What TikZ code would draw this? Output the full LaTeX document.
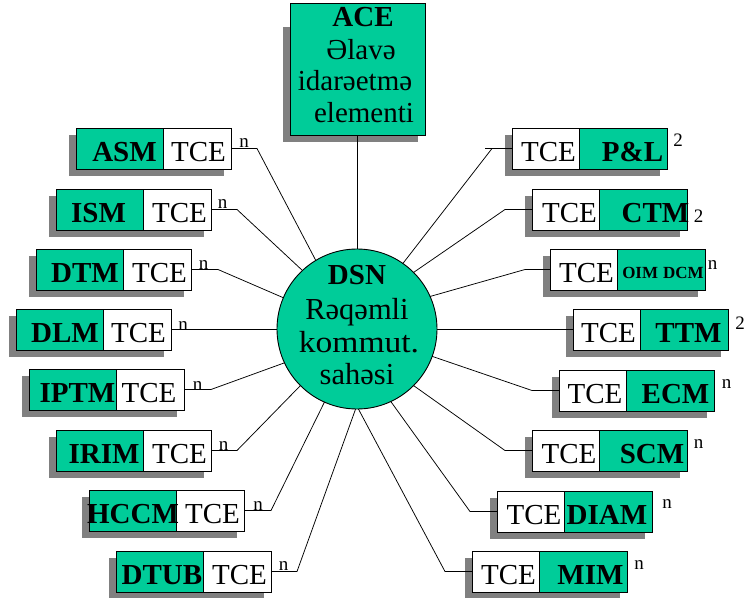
\documentclass[tikz,border=0pt]{standalone}
\usepackage{fontspec}
\setmainfont{Liberation Serif}
\definecolor{panelgreen}{RGB}{0,204,153}
\definecolor{shadowgray}{RGB}{128,128,128}

\tikzset{
  boxline/.style={draw=black, line width=0.9pt, inner sep=0pt, outer sep=0pt},
  dropshadow/.style={fill=shadowgray, draw=none},
  greenpart/.style={boxline, fill=panelgreen, minimum width=87pt, minimum height=41pt},
  whitepart/.style={boxline, fill=white, minimum width=68pt, minimum height=41pt},
  rwhitepart/.style={boxline, fill=white, minimum width=67pt, minimum height=41pt},
  rgreenpart/.style={boxline, fill=panelgreen, minimum width=88pt, minimum height=41pt},
  lbl/.style={font=\fontsize{29}{31}\selectfont\bfseries, anchor=base, inner sep=0pt},
  tcetext/.style={font=\fontsize{29}{31}\selectfont, anchor=base, inner sep=0pt},
  multtext/.style={font=\fontsize{19}{20}\selectfont, anchor=base, inner sep=0pt},
  bigtext/.style={font=\fontsize{29}{31}\selectfont, anchor=base, inner sep=0pt},
  circtext/.style={font=\fontsize{30.5}{33}\selectfont, anchor=base, inner sep=0pt},
  wire/.style={draw=black, line width=0.75pt},
}

% unit with the module on the left and TCE on the right
% #1 name, #2 left x, #3 top y, #4 label, #5 label centre x, #6 TCE centre x,
% #7 multiplicity, #8/#9 its position
\newcommand\leftunit[9]{%
  \path[dropshadow] ({#2-7},{#3+7}) rectangle ({#2+148},{#3+48});
  \node[greenpart, anchor=north west] (#1g) at (#2,#3) {};
  \node[whitepart, anchor=north west] (#1w) at ({#2+87},#3) {};
  \node[lbl] (#1l) at (#5,{#3+33.5}) {#4};
  \node[tcetext] (#1t) at (#6,{#3+33.5}) {TCE};
  \node[multtext] (#1m) at (#8,#9) {#7};
}
% unit with TCE on the left and the module on the right
\newcommand\rightunit[9]{%
  \path[dropshadow] ({#2-7},{#3+7}) rectangle ({#2+148},{#3+48});
  \node[rwhitepart, anchor=north west] (#1w) at (#2,#3) {};
  \node[rgreenpart, anchor=north west] (#1g) at ({#2+67},#3) {};
  \node[lbl] (#1l) at (#5,{#3+33.5}) {#4};
  \node[tcetext] (#1t) at (#6,{#3+33.5}) {TCE};
  \node[multtext] (#1m) at (#8,#9) {#7};
}

\begin{document}
\begin{tikzpicture}[x=1pt,y=-1pt]
\useasboundingbox (0,0) rectangle (744,597);
\fill[white] (0,0) rectangle (744,597);

% auxiliary control element
\path[dropshadow] (283,27) rectangle (418,142);
\node[boxline, fill=panelgreen, minimum width=135pt, minimum height=132pt, anchor=north west] (ace) at (290,3) {};
\node[lbl] (ace1) at (363,27) {ACE};
\node[bigtext] (ace2) at (361,59) {Əlavə};
\node[bigtext] (ace3) at (355,90) {idarəetmə};
\node[bigtext] (ace4) at (364,122) {elementi};

% digital switching network
\node[circle, draw=black, line width=0.9pt, fill=panelgreen, minimum size=160pt, inner sep=0pt, outer sep=0pt] (dsn) at (357,329) {};
\node[lbl] (dsn1) at (357,284) {DSN};
\node[circtext] (dsn2) at (357,319) {Rəqəmli};
\node[circtext] (dsn3) at (359,352) {\scalebox{1.1}[1]{kommut.}};
\node[circtext] (dsn4) at (357,384) {sahəsi};

\draw[wire] (ace.south) -- (ace.south |- dsn.north);

% left column
\leftunit{asm}{76}{128}{ASM}{124.5}{198.5}{n}{244}{147}
\leftunit{ism}{56}{189}{ISM}{98.5}{179.5}{n}{222.5}{208}
\leftunit{dtm}{36}{249}{DTM}{85}{159.5}{n}{203.5}{269}
\leftunit{dlm}{16}{309}{DLM}{65}{138.5}{n}{183}{330}
\leftunit{iptm}{29}{369}{IPTM}{77.5}{149}{n}{197.5}{390}
\leftunit{irim}{56}{430}{IRIM}{104}{179.5}{n}{223.5}{450}
\leftunit{hccm}{89}{490}{HCCM}{133}{212.5}{n}{258}{510}
\leftunit{dtub}{116}{551}{DTUB}{162}{239.5}{n}{283.5}{570}

% right column
\rightunit{pl}{512}{128}{P\&L}{632.5}{548.5}{2}{678}{146}
\rightunit{ctm}{532}{189}{CTM}{655.5}{569.5}{2}{698.5}{222}
\rightunit{oim}{550}{249}{\raisebox{4.5pt}{\fontsize{17}{18}\selectfont OIM\hspace{5pt}DCM}}{663}{586.5}{n}{712.5}{269}
\rightunit{ttm}{573}{309}{TTM}{688.5}{608.5}{2}{740}{329}
\rightunit{ecm}{559}{370}{ECM}{675.5}{595}{n}{726.5}{388}
\rightunit{scm}{532}{430}{SCM}{652}{569}{n}{698.5}{448}
\rightunit{diam}{497}{491}{DIAM}{607}{534}{n}{667}{508}
\rightunit{mim}{472}{551}{MIM}{590.5}{508.5}{n}{639}{569}

% connections to the switching network
\draw[wire] (asmw.east) -- ++(26,0) -- (dsn.121);
\draw[wire] (ismw.east) -- ++(26,0) -- (dsn.133.5);
\draw[wire] (dtmw.east) -- ++(27,0) -- (dsn.157);
\draw[wire] (dlmw.east) -- (dlmw.east -| dsn.west);
\draw[wire] (iptmw.east) -- ++(27,0) -- (dsn.205);
\draw[wire] (irimw.east) -- ++(26,0) -- (dsn.225.5);
\draw[wire] (hccmw.east) -- ++(27,0) -- (dsn.246);
\draw[wire] (dtubw.east) -- ++(26,0) -- (dsn.269.5);

\draw[wire] (plw.west) -- ++(-27,0) ++(7,0) -- (dsn.55);
\draw[wire] (ctmw.west) -- ++(-27,0) -- (dsn.45);
\draw[wire] (oimw.west) -- ++(-25,0) -- (dsn.24);
\draw[wire] (ttmw.west) -- (ttmw.west -| dsn.east);
\draw[wire] (ecmw.west) -- ++(-27,0) -- (dsn.340);
\draw[wire] (scmw.west) -- ++(-27,0) -- (dsn.315);
\draw[wire] (diamw.west) -- ++(-27,0) -- (dsn.295);
\draw[wire] (mimw.west) -- ++(-27,0) -- (dsn.271);
\end{tikzpicture}
\end{document}
